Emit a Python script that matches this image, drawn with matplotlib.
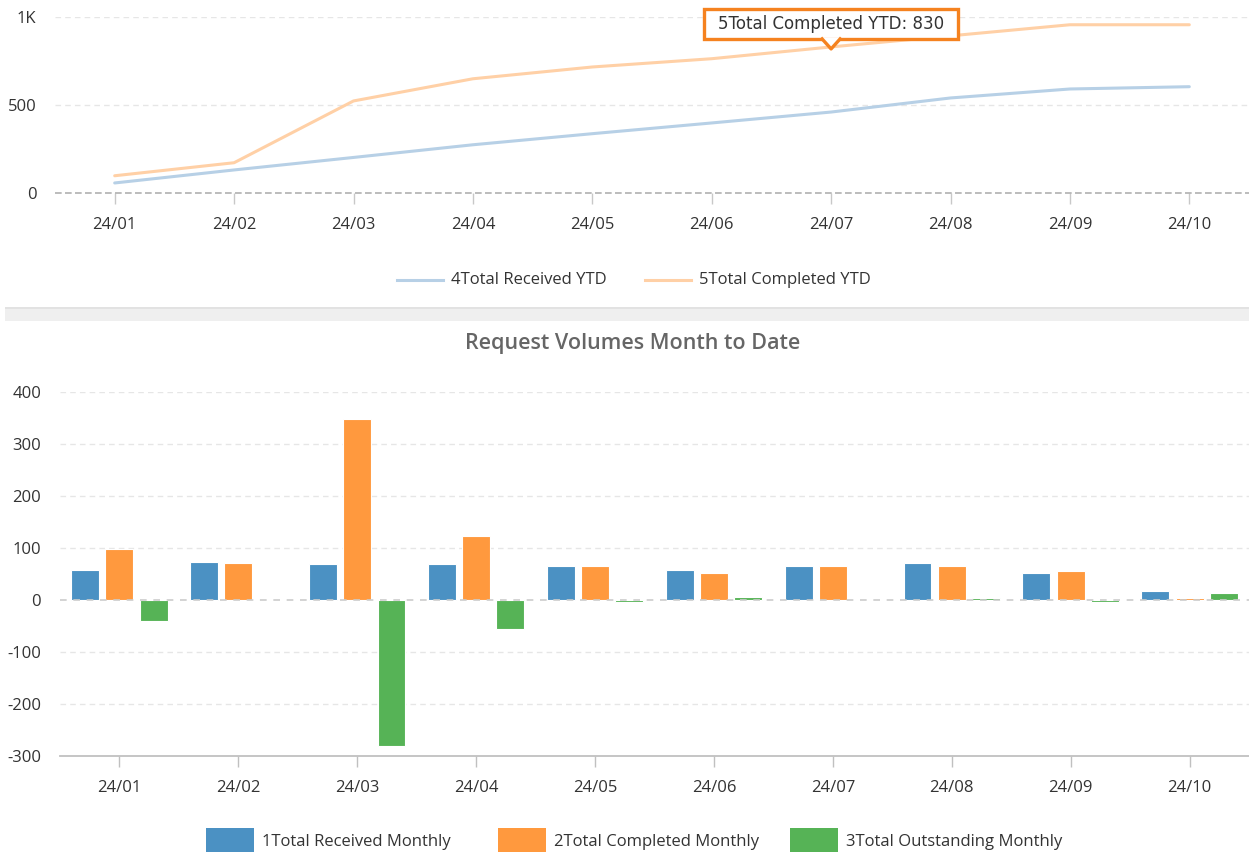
import matplotlib
matplotlib.use("Agg")
import matplotlib.pyplot as plt
import numpy as np
from matplotlib.patches import Rectangle, Polygon
from matplotlib.lines import Line2D

plt.rcParams['font.family'] = ['Open Sans', 'DejaVu Sans']
plt.rcParams['axes.unicode_minus'] = False

# ---- data ----
months = ["24/01", "24/02", "24/03", "24/04", "24/05", "24/06", "24/07", "24/08", "24/09", "24/10"]
received_ytd = [57, 131, 202, 274, 337, 398, 460, 540, 591, 604]
completed_ytd = [98, 172, 523, 649, 716, 763, 830, 893, 956, 956]
ytd_labels = ["4Total Received YTD", "5Total Completed YTD"]

received_monthly = [57, 74, 69, 69, 66, 58, 66, 72, 52, 17]
completed_monthly = [98, 72, 349, 124, 66, 52, 66, 66, 55, 3]
outstanding_monthly = [-41, 2, -280, -55, -3, 6, 0, 3, -4, 14]
monthly_labels = ["1Total Received Monthly", "2Total Completed Monthly", "3Total Outstanding Monthly"]
bar_title = "Request Volumes Month to Date"

tooltip_index = 6

# ---- style ----
W, H = 1249, 852
fig = plt.figure(figsize=(W / 100, H / 100), dpi=100)
fig.patch.set_facecolor("white")

line_colors = ["#b7d0e6", "#ffd0a6"]
bar_colors = ["#4b91c3", "#ff993e", "#56b356"]
txt = "#333333"
grid_c = "#e6e6e6"
FS = 12

def fx(px):
    return px / W

def fy(py):
    return 1 - py / H

x = np.arange(len(months))

# ---- top line chart ----
ax1 = fig.add_axes([fx(55), fy(193), fx(1249 - 55), (193 - 17) / H])
ax1.plot(x, received_ytd, color=line_colors[0], lw=2.2, solid_capstyle="round", zorder=3)
ax1.plot(x, completed_ytd, color=line_colors[1], lw=2.2, solid_capstyle="round", zorder=3)
ax1.set_xlim(-0.5, len(months) - 0.5)
ax1.set_ylim(0, 1000)
ax1.set_yticks([0, 500, 1000])
ax1.set_yticklabels(["0", "500", "1K"])
ax1.set_xticks(x)
ax1.set_xticklabels(months)
for s in ax1.spines.values():
    s.set_visible(False)
ax1.axhline(500, color=grid_c, lw=1, ls=(0, (4, 3)), zorder=1)
ax1.axhline(1000, color=grid_c, lw=1, ls=(0, (4, 3)), zorder=1)
ax1.axhline(0, color="#b0b0b0", lw=1.2, ls=(0, (4, 2)), zorder=2, clip_on=False)
ax1.tick_params(axis="x", length=8, color="#c8c8c8", width=1, pad=9, labelsize=FS, labelcolor=txt)
ax1.tick_params(axis="y", length=0, pad=13.5, labelsize=FS, labelcolor=txt)

# tooltip
fig.canvas.draw()
px, py = ax1.transData.transform((tooltip_index, completed_ytd[tooltip_index]))
py -= 2
bw, bh, gap, tw = 254, 30, 10, 9
bx0, by0 = px - bw / 2, py + gap
orange = "#f5821f"
shadow = Rectangle((bx0 + 2, by0 - 2), bw, bh, transform=None, facecolor="#000000", alpha=0.08,
                   edgecolor="none", zorder=9)
fig.add_artist(shadow)
box = Rectangle((bx0, by0), bw, bh, transform=None, facecolor="white", edgecolor=orange, lw=2.4, zorder=10)
fig.add_artist(box)
tri = Polygon([(px - tw, by0 + 1.5), (px, py), (px + tw, by0 + 1.5)], closed=True, transform=None,
              facecolor="white", edgecolor="none", zorder=11)
fig.add_artist(tri)
fig.add_artist(Line2D([px - tw, px, px + tw], [by0, py, by0], transform=None, color=orange, lw=2.4, zorder=12))
fig.text(px / W, (by0 + bh / 2) / H, f"{ytd_labels[1]}: {completed_ytd[tooltip_index]}",
         ha="center", va="center", fontsize=12, color=txt, zorder=13, family="DejaVu Sans")

# top legend
leg1 = [(397, 443, 451), (645, 691, 699)]
for (l0, l1, tx), lab, c in zip(leg1, ytd_labels, line_colors):
    fig.add_artist(Line2D([fx(l0), fx(l1)], [fy(280), fy(280)], color=c, lw=2.2))
    fig.text(fx(tx), fy(280), lab, ha="left", va="center", fontsize=FS, color=txt)

# separator band
fig.add_artist(Rectangle((fx(5), fy(321)), fx(1249 - 5), 14 / H, facecolor="#efefef", edgecolor="none"))
fig.add_artist(Rectangle((fx(5), fy(309)), fx(1249 - 5), 2 / H, facecolor="#e2e2e2", edgecolor="none"))

# ---- bottom bar chart ----
ax2 = fig.add_axes([fx(60), fy(756), fx(1249 - 60), (756 - 392) / H])
bw2 = 0.235
offs = [-0.288, 0.0, 0.288]
for series, c, o in zip([received_monthly, completed_monthly, outstanding_monthly], bar_colors, offs):
    ax2.bar(x + o, series, width=bw2, color=c, edgecolor="white", linewidth=0.8, zorder=3)
ax2.set_xlim(-0.5, len(months) - 0.5)
ax2.set_ylim(-300, 400)
ax2.set_yticks(range(-300, 401, 100))
ax2.set_xticks(x)
ax2.set_xticklabels(months)
for s in ax2.spines.values():
    s.set_visible(False)
for v in range(-200, 401, 100):
    if v == 0:
        ax2.axhline(0, color="#cccccc", lw=1.2, ls=(0, (4, 4)), zorder=4)
    else:
        ax2.axhline(v, color=grid_c, lw=1, ls=(0, (4, 3)), zorder=1)
ax2.axhline(-300, color="#c0c0c0", lw=1.3, zorder=2, clip_on=False)
ax2.tick_params(axis="x", length=8, color="#c0c0c0", width=1, pad=9, labelsize=FS, labelcolor=txt)
ax2.tick_params(axis="y", length=0, pad=13.5, labelsize=FS, labelcolor=txt)
fig.text(fx(633), fy(343), bar_title, ha="center", va="center", fontsize=15.5, color="#666666",
         fontweight="semibold")

# bottom legend
leg2 = [(206, 254, 262), (498, 546, 554), (790, 838, 846)]
for (l0, l1, tx), lab, c in zip(leg2, monthly_labels, bar_colors):
    fig.add_artist(Rectangle((fx(l0), fy(856)), fx(l1 - l0), 28 / H, facecolor=c, edgecolor="none"))
    fig.text(fx(tx), fy(842), lab, ha="left", va="center", fontsize=FS, color=txt)

fig.savefig("out.png", dpi=100)
